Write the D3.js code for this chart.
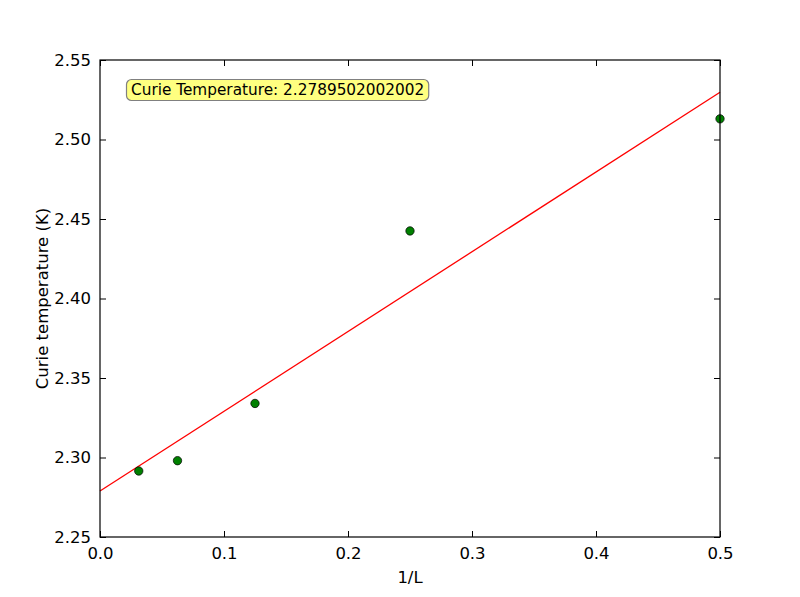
<!DOCTYPE html>
<html>
<head>
<meta charset="utf-8">
<script src="https://cdn.jsdelivr.net/npm/d3@7"></script>
<style>
  body { margin: 0; background: #fff; }
  text { font-family: "DejaVu Sans", sans-serif; }
</style>
</head>
<body>
<div id="chart"></div>
<script>
// data points: 1/L vs Curie temperature
const invL = [0.03125, 0.0625, 0.125, 0.25, 0.5]
const curieT = [2.2915, 2.298, 2.334, 2.4425, 2.513]

// fitted line endpoints
const fitX = [0, 0.5]
const fitY = [2.27895, 2.5297]

const xTicks = [0.0, 0.1, 0.2, 0.3, 0.4, 0.5]
const yTicks = [2.25, 2.30, 2.35, 2.40, 2.45, 2.50, 2.55]
const annotation = 'Curie Temperature: 2.2789502002002'

const svgWidth = 800
const svgHeight = 597
const margin = { left: 100, right: 80, top: 60, bottom: 60 }
const width = svgWidth - margin.left - margin.right
const height = svgHeight - margin.top - margin.bottom

const svg = d3.select('#chart')
    .append('svg')
    .attr('width', svgWidth)
    .attr('height', svgHeight)
    .append('g')
    .attr('transform', `translate(${margin.left},${margin.top})`)

////////////// scales //////////////
const xScale = d3.scaleLinear().domain([0, 0.5]).range([0, width])
const yScale = d3.scaleLinear().domain([2.25, 2.55]).range([height, 0])

////////////// axes (ticks inward, all four sides) //////////////
const tickLen = 6
const fontSize = 16.5

svg.append('g')
    .attr('transform', `translate(0,${height})`)
    .call(d3.axisBottom(xScale).tickValues(xTicks).tickFormat(d3.format('.1f')).tickSize(-tickLen).tickPadding(10))
svg.append('g')
    .call(d3.axisTop(xScale).tickValues(xTicks).tickFormat('').tickSize(-tickLen))
svg.append('g')
    .call(d3.axisLeft(yScale).tickValues(yTicks).tickFormat(d3.format('.2f')).tickSize(-tickLen).tickPadding(9))
svg.append('g')
    .attr('transform', `translate(${width},0)`)
    .call(d3.axisRight(yScale).tickValues(yTicks).tickFormat('').tickSize(-tickLen))

svg.selectAll('.domain').remove()
svg.selectAll('.tick line').attr('stroke', '#000').attr('stroke-width', 1)
svg.selectAll('.tick text').attr('font-size', fontSize).attr('fill', '#000')
    .attr('font-family', '"DejaVu Sans", sans-serif')

////////////// fit line //////////////
svg.append('line')
    .attr('x1', xScale(fitX[0]))
    .attr('y1', yScale(fitY[0]))
    .attr('x2', xScale(fitX[1]))
    .attr('y2', yScale(fitY[1]))
    .attr('stroke', 'red')
    .attr('stroke-width', 1.3)

////////////// points //////////////
svg.selectAll('.points')
    .data(invL)
    .join('circle')
    .attr('class', 'points')
    .attr('cx', d => xScale(d))
    .attr('cy', (d, i) => yScale(curieT[i]))
    .attr('r', 4.2)
    .attr('fill', '#008000')
    .attr('stroke', '#000')
    .attr('stroke-width', 0.7)

// frame
svg.append('rect')
    .attr('width', width)
    .attr('height', height)
    .attr('fill', 'none')
    .attr('stroke', '#000')
    .attr('stroke-width', 1.2)

////////////// annotation box //////////////
const note = svg.append('g').attr('transform', 'translate(31,30)')
const noteText = note.append('text')
    .text(annotation)
    .attr('font-size', 15.3)
    .attr('dominant-baseline', 'central')
    .attr('fill', '#000')
const bb = noteText.node().getBBox()
note.insert('rect', 'text')
    .attr('x', bb.x - 4.5)
    .attr('y', -10.5)
    .attr('width', bb.width + 9)
    .attr('height', 21)
    .attr('rx', 5)
    .attr('fill', '#ffff80')
    .attr('stroke', '#808080')
    .attr('stroke-width', 1.2)

////////////// axis labels //////////////
svg.append('text')
    .text('1/L')
    .attr('x', width / 2)
    .attr('y', height + 46)
    .attr('text-anchor', 'middle')
    .attr('font-size', fontSize)

svg.append('text')
    .text('Curie temperature (K)')
    .attr('text-anchor', 'middle')
    .attr('font-size', fontSize)
    .attr('transform', `translate(-52,${height / 2}) rotate(-90)`)
</script>
</body>
</html>
